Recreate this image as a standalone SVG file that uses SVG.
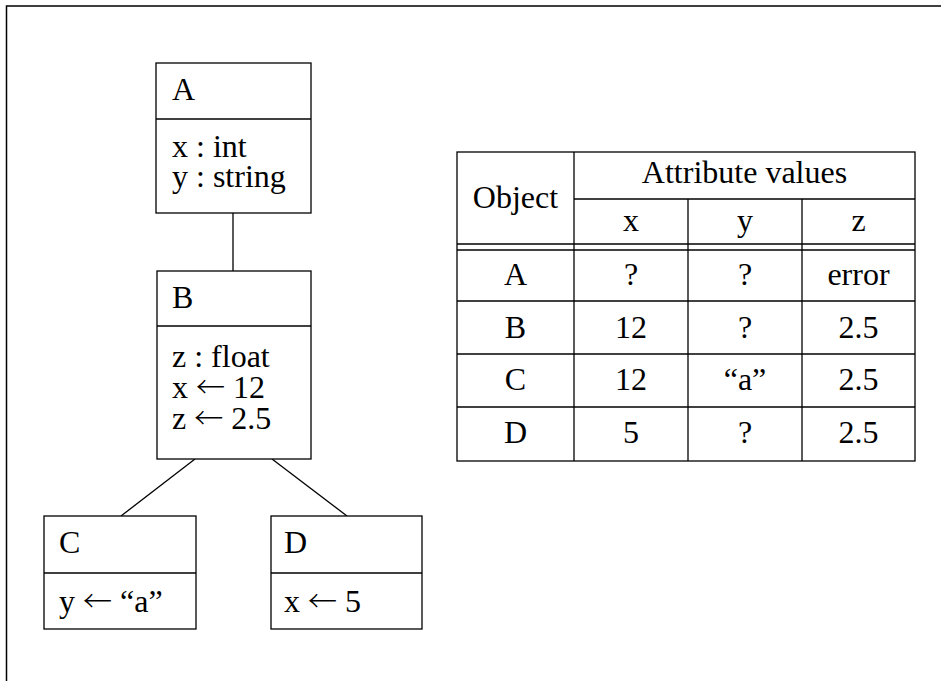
<svg xmlns="http://www.w3.org/2000/svg" width="941" height="681" viewBox="0 0 941 681">
<style>
text{font-family:"Liberation Serif","Times New Roman",serif;font-size:32px;fill:#000}
.c{text-anchor:middle}
.ar{font-family:"Noto Sans CJK JP","DejaVu Sans",sans-serif;font-size:29px;font-weight:300}
.box{fill:#fff;stroke:#000;stroke-width:1.3}
.ln{stroke:#000;stroke-width:1.3;fill:none}
</style>
<rect width="941" height="681" fill="#fff"/>
<path d="M6.5,681 V6 H941" fill="none" stroke="#000" stroke-width="1.5"/>
<g id="connectors">
<line class="ln" x1="233" y1="213" x2="233" y2="271"/>
<line class="ln" x1="195" y1="459" x2="121" y2="516"/>
<line class="ln" x1="272" y1="459" x2="347" y2="516"/>
</g>
<g id="nodeA">
<rect class="box" x="156" y="63" width="155" height="150"/>
<line class="ln" x1="156" y1="119" x2="311" y2="119"/>
<text x="172" y="100">A</text>
<text x="172" y="157">x : int</text>
<text x="172" y="187">y : string</text>
</g>
<g id="nodeB">
<rect class="box" x="157" y="271" width="154" height="188"/>
<line class="ln" x1="157" y1="326" x2="311" y2="326"/>
<text x="172" y="308">B</text>
<text x="172" y="367">z : float</text>
<text x="172" y="398">x <tspan class="ar">←</tspan> 12</text>
<text x="172" y="429">z <tspan class="ar">←</tspan> 2.5</text>
</g>
<g id="nodeC">
<rect class="box" x="44" y="516" width="152" height="113"/>
<line class="ln" x1="44" y1="573" x2="196" y2="573"/>
<text x="59" y="553">C</text>
<text x="59" y="612">y <tspan class="ar">←</tspan> “a”</text>
</g>
<g id="nodeD">
<rect class="box" x="271" y="516" width="151" height="113"/>
<line class="ln" x1="271" y1="573" x2="422" y2="573"/>
<text x="284" y="553">D</text>
<text x="284" y="612">x <tspan class="ar">←</tspan> 5</text>
</g>
<g id="table">
<rect class="box" x="457" y="152" width="458" height="309"/>
<line class="ln" x1="574" y1="152" x2="574" y2="461"/>
<line class="ln" x1="574" y1="199" x2="915" y2="199"/>
<line class="ln" x1="688" y1="199" x2="688" y2="461"/>
<line class="ln" x1="802" y1="199" x2="802" y2="461"/>
<line class="ln" x1="457" y1="244" x2="915" y2="244"/>
<line class="ln" x1="457" y1="250" x2="915" y2="250"/>
<line class="ln" x1="457" y1="301" x2="915" y2="301"/>
<line class="ln" x1="457" y1="354" x2="915" y2="354"/>
<line class="ln" x1="457" y1="407" x2="915" y2="407"/>
<text class="c" x="515.5" y="208">Object</text>
<text class="c" x="744.5" y="183">Attribute values</text>
<text class="c" x="631" y="231">x</text>
<text class="c" x="745" y="231">y</text>
<text class="c" x="858.5" y="231">z</text>
<text class="c" x="515.5" y="285">A</text>
<text class="c" x="631" y="285">?</text>
<text class="c" x="745" y="285">?</text>
<text class="c" x="858.5" y="285">error</text>
<text class="c" x="515.5" y="338">B</text>
<text class="c" x="631" y="338">12</text>
<text class="c" x="745" y="338">?</text>
<text class="c" x="858.5" y="338">2.5</text>
<text class="c" x="515.5" y="390">C</text>
<text class="c" x="631" y="390">12</text>
<text class="c" x="745" y="390">“a”</text>
<text class="c" x="858.5" y="390">2.5</text>
<text class="c" x="515.5" y="443">D</text>
<text class="c" x="631" y="443">5</text>
<text class="c" x="745" y="443">?</text>
<text class="c" x="858.5" y="443">2.5</text>
</g>
</svg>
